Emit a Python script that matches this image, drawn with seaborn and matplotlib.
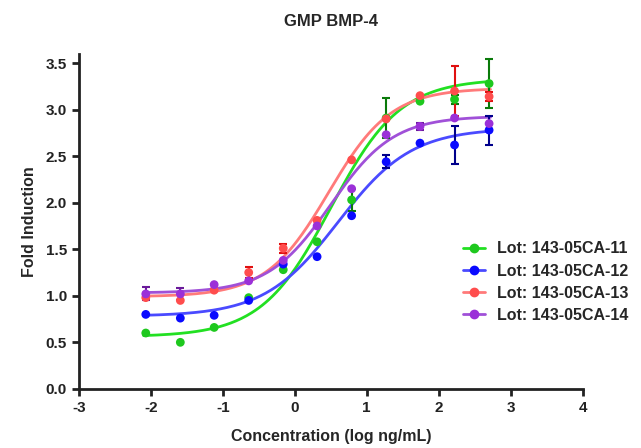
import numpy as np
import pandas as pd
import matplotlib
matplotlib.use("Agg")
import matplotlib.pyplot as plt
import seaborn as sns
from matplotlib.lines import Line2D

# log10 concentration (3-fold dilutions)
log_conc = [-2.07, -1.59, -1.12, -0.64, -0.16, 0.31, 0.79, 1.27, 1.74, 2.22, 2.70]

lots = ["Lot: 143-05CA-11", "Lot: 143-05CA-12", "Lot: 143-05CA-13", "Lot: 143-05CA-14"]

fold_11 = [0.60, 0.50, 0.66, 0.98, 1.28, 1.58, 2.03, 2.91, 3.09, 3.11, 3.28]
fold_12 = [0.80, 0.76, 0.79, 0.95, 1.34, 1.42, 1.86, 2.44, 2.64, 2.62, 2.78]
fold_13 = [0.98, 0.95, 1.06, 1.25, 1.51, 1.81, 2.46, 2.90, 3.15, 3.20, 3.14]
fold_14 = [1.02, 1.02, 1.12, 1.16, 1.38, 1.75, 2.15, 2.73, 2.82, 2.91, 2.85]

sem_11 = [0, 0, 0, 0, 0, 0, 0.12, 0.21, 0, 0.05, 0.26]
sem_12 = [0, 0, 0, 0, 0, 0, 0, 0.07, 0, 0.20, 0.155]
sem_13 = [0, 0, 0, 0.06, 0.05, 0, 0, 0, 0, 0.265, 0.05]
sem_14 = [0.07, 0.06, 0, 0, 0, 0, 0, 0, 0.04, 0, 0]

# 4PL fit parameters: bottom, top, logEC50, hill
fit_11 = [0.56, 3.33, 0.50, 0.90]
fit_12 = [0.78, 2.80, 0.60, 0.85]
fit_13 = [0.99, 3.23, 0.47, 1.00]
fit_14 = [1.03, 2.93, 0.50, 1.00]

point_colors = ["#1ec81e", "#0a0aff", "#ff4d4d", "#9b30d8"]
line_colors = ["#22e022", "#4a4aff", "#ff7a7a", "#a050d8"]
err_colors = ["#0a7a0a", "#00008b", "#e01010", "#6a1a9a"]

folds = [fold_11, fold_12, fold_13, fold_14]
sems = [sem_11, sem_12, sem_13, sem_14]
fits = [fit_11, fit_12, fit_13, fit_14]

pts = pd.DataFrame({
    "x": log_conc * 4,
    "y": sum(folds, []),
    "err": sum(sems, []),
    "lot": sum([[l] * len(log_conc) for l in lots], []),
})

xs = np.linspace(-2.1, 2.72, 200)
curves = []
for lot, (b, t, ec, h) in zip(lots, fits):
    ys = b + (t - b) / (1 + 10 ** ((ec - xs) * h))
    curves.append(pd.DataFrame({"x": xs, "y": ys, "lot": lot}))
curves = pd.concat(curves)

sns.set_style("ticks")
plt.rcParams["font.family"] = ["Liberation Sans", "DejaVu Sans"]
plt.rcParams["font.weight"] = "bold"
plt.rcParams["axes.unicode_minus"] = False

fig = plt.figure(figsize=(6.41, 4.48), dpi=100)
ax = fig.add_axes([0.123, 0.132, 0.786, 0.748])

sns.lineplot(data=curves, x="x", y="y", hue="lot", palette=line_colors,
             linewidth=2, legend=False, ax=ax, zorder=2)
for lot, ec in zip(lots, err_colors):
    d = pts[(pts["lot"] == lot) & (pts["err"] > 0)]
    ax.errorbar(d["x"], d["y"], yerr=d["err"], fmt="none", ecolor=ec, elinewidth=1.5,
                capsize=3, capthick=1.5, zorder=3)
sns.scatterplot(data=pts, x="x", y="y", hue="lot", palette=point_colors,
                s=40, edgecolor="none", legend=False, ax=ax, zorder=4)

ax.set_xlim(-3, 4)
ax.set_ylim(0, 3.6)
ax.set_xticks(range(-3, 5))
ax.set_yticks(np.arange(0, 3.6, 0.5))
ax.yaxis.set_major_formatter(matplotlib.ticker.FormatStrFormatter("%.1f"))
sns.despine(ax=ax)
for s in ["left", "bottom"]:
    ax.spines[s].set_linewidth(2)
    ax.spines[s].set_color("#222222")
ax.tick_params(width=2, length=5, labelsize=11, colors="#222222")
for lab in ax.get_xticklabels() + ax.get_yticklabels():
    lab.set_fontweight("bold")

ax.set_xlabel("Concentration (log ng/mL)", fontsize=11.5, fontweight="bold", labelpad=10)
ax.set_ylabel("Fold Induction", fontsize=11.5, fontweight="bold", labelpad=6)
ax.set_title("GMP BMP-4", fontsize=12, fontweight="bold", pad=20)

handles = [Line2D([0], [0], color=lc, marker="o", markerfacecolor=pc, markeredgecolor=pc,
                  markersize=6, linewidth=2) for lc, pc in zip(line_colors, point_colors)]
fig.legend(handles, lots, loc="center left", bbox_to_anchor=(0.70, 0.37), frameon=False,
           prop={"size": 11.5, "weight": "bold"}, handlelength=1.4, labelspacing=0.45,
           handletextpad=0.7)

fig.savefig("out.png", dpi=100)
